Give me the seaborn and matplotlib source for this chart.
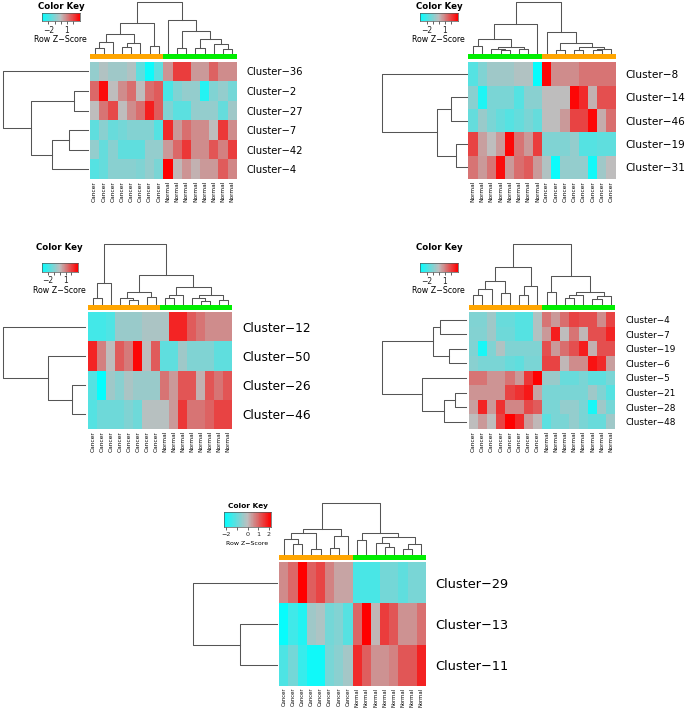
import numpy as np
import pandas as pd
import matplotlib
matplotlib.use("Agg")
import matplotlib.pyplot as plt
from matplotlib.colors import LinearSegmentedColormap, ListedColormap
import seaborn as sns

# ---------------- data: row z-scores ----------------
p1_rows = ["Cluster−36", "Cluster−2", "Cluster−27", "Cluster−7", "Cluster−42", "Cluster−4"]
p1_cols = ["Cancer"] * 8 + ["Normal"] * 8
p1_vals = [
    [-0.7, -0.2, -0.5, -0.5, -0.2, -1.55, -2.9, -1.55, 0.7, 2.1, 2.1, 0.6, 0.6, 1.5, 0.8, 0.8],
    [1.4, 2.9, 0.0, 0.8, 1.3, 0.0, 1.3, 1.6, -1.9, -1.0, -0.7, -0.7, -2.5, -1.0, -0.7, -1.2],
    [0.0, 1.2, 1.9, 0.0, 0.8, 1.3, 2.6, 1.6, -1.0, -1.6, -1.6, -0.7, -0.7, -0.7, -1.45, -0.5],
    [-1.55, -0.85, -1.4, -1.2, -0.95, -0.95, -0.95, -1.7, 2.4, 0.6, 1.3, 0.8, 0.8, 0.0, 2.2, 0.8],
    [-0.7, -1.45, -0.85, -1.55, -1.55, -1.55, -0.7, -0.7, 0.6, 1.4, 2.2, 0.8, 0.8, 1.7, 1.0, 2.1],
    [-1.7, -1.45, -0.85, -0.85, -0.85, -1.0, -0.7, -1.1, 3.1, 0.1, 0.7, 0.2, 0.6, 0.6, 1.6, 0.9],
]

p2_rows = ["Cluster−8", "Cluster−14", "Cluster−46", "Cluster−19", "Cluster−31"]
p2_cols = ["Normal"] * 8 + ["Cancer"] * 8
p2_vals = [
    [-1.7, -1.0, -0.5, -0.5, -0.5, -0.2, -0.2, -3.0, 3.0, 0.8, 0.8, 0.8, 1.2, 1.2, 1.2, 1.2],
    [-0.85, -2.6, -1.1, -1.1, -1.1, -1.7, -0.85, -0.85, 0.0, 0.0, 0.0, 3.0, 2.4, 0.2, 1.8, 1.8],
    [-1.45, -0.6, -1.1, -1.45, -1.7, -1.45, -1.1, -1.45, 0.0, 0.0, 0.6, 2.0, 2.0, 3.0, 0.3, 1.3],
    [2.0, 0.5, 0.0, 0.6, 3.0, 1.2, 0.6, 2.1, -1.0, -1.0, -1.0, -0.7, -1.7, -1.7, -1.55, -1.55],
    [1.2, 0.6, 1.2, 2.9, 0.6, 1.3, 1.6, 0.6, -0.2, -2.9, -0.7, -0.7, -0.7, -2.8, -0.5, 0.0],
]

p3_rows = ["Cluster−12", "Cluster−50", "Cluster−26", "Cluster−46"]
p3_cols = ["Cancer"] * 8 + ["Normal"] * 8
p3_vals = [
    [-2.0, -2.0, -1.8, -0.6, -0.6, -0.6, -0.3, -0.3, -0.3, 2.5, 2.5, 1.6, 1.2, 0.8, 0.8, 0.8],
    [2.5, 1.0, 0.0, 1.6, 1.1, 3.0, 0.0, 1.6, -1.55, -1.55, -0.5, -1.0, -1.0, -1.0, -1.55, -1.55],
    [-1.7, -3.0, -0.5, -0.85, -0.3, -0.6, -0.6, -0.6, 1.2, 0.6, 1.7, 1.7, 0.2, 1.7, 1.2, 1.7],
    [-1.7, -1.3, -1.3, -1.3, -1.0, -1.3, -0.1, -0.1, -0.1, 0.6, 2.2, 1.2, 1.2, 1.5, 2.0, 2.0],
]

p4_rows = ["Cluster−4", "Cluster−7", "Cluster−19", "Cluster−6",
           "Cluster−5", "Cluster−21", "Cluster−28", "Cluster−48"]
p4_cols = ["Cancer"] * 8 + ["Normal"] * 8
p4_vals = [
    [-1.0, -1.0, -0.5, -1.4, -1.4, -1.7, -1.7, -0.2, 1.2, 0.6, 1.3, 2.0, 1.8, 1.8, 0.8, 2.0],
    [-0.95, -0.95, -0.5, -1.3, -1.3, -1.7, -1.7, -0.2, 0.6, 2.6, 0.0, 1.2, 0.1, 1.8, 1.8, 2.5],
    [-1.0, -2.7, -1.0, -0.2, -1.0, -1.0, -1.0, -1.0, 1.8, 0.6, 1.3, 1.8, 2.6, 0.2, 1.8, 1.8],
    [-0.85, -1.1, -1.1, -1.1, -1.4, -1.55, -1.1, -1.1, 2.0, 2.0, 0.1, 0.8, 0.8, 2.8, 2.4, 0.5],
    [1.2, 1.2, 0.7, 0.7, 1.2, 0.6, 2.2, 3.1, -0.6, -0.6, -1.4, -1.4, -1.1, -1.55, -1.55, -1.1],
    [0.7, 0.7, 0.7, 0.7, 2.0, 2.3, 2.7, 0.4, -1.1, -1.1, -1.1, -1.1, -1.1, -0.5, -1.0, -1.7],
    [0.5, 2.5, 0.6, 2.3, 0.9, 0.9, 1.9, 1.6, -1.1, -1.1, -0.7, -0.7, -1.1, -2.7, -0.5, -1.2],
    [0.0, 0.6, 0.0, 2.0, 3.2, 2.4, 0.6, 0.1, -1.6, -1.1, -1.1, -0.7, -1.1, -1.4, -1.4, -0.5],
]

p5_rows = ["Cluster−29", "Cluster−13", "Cluster−11"]
p5_cols = ["Cancer"] * 8 + ["Normal"] * 8
p5_vals = [
    [0.6, 1.0, 2.2, 1.1, 1.4, 0.7, 0.3, 0.3, -1.35, -1.35, -1.35, -0.85, -0.85, -1.1, -0.8, -0.8],
    [-2.1, -1.45, -1.8, -0.35, -0.2, -0.85, -0.7, -1.2, 1.0, 2.2, 0.1, 1.5, 1.2, 0.5, 0.5, 0.9],
    [-1.3, -0.85, -1.55, -2.0, -2.0, -0.8, -0.6, -0.3, 1.7, 1.1, 0.5, 0.5, 0.7, 1.2, 1.2, 1.8],
]

# dendrograms: leaves are display positions, nodes are (left, right, height)
p1_col_tree = (((((0, 1, 0.1), 2, 0.22), ((3, 4, 0.12), 5, 0.2), 0.38), (6, 7, 0.13), 0.59),
               (8, ((9, 10, 0.1), ((11, 12, 0.1), (13, (14, 15, 0.08), 0.17), 0.27), 0.42), 0.64), 1.0)
p1_row_tree = (0, ((1, 2, 0.17), ((3, 4, 0.22), 5, 0.43), 0.67), 1.0)

p2_col_tree = ((((0, 1, 0.14), ((2, (3, 4, 0.05), 0.08), (5, 6, 0.07), 0.12), 0.27), 7, 0.57),
               (8, ((9, 10, 0.06), ((11, 12, 0.05), ((13, 14, 0.05), 15, 0.08), 0.12), 0.2), 0.4), 1.0)
p2_row_tree = (0, ((1, 2, 0.18), (3, 4, 0.13), 0.35), 1.0)

p3_col_tree = (((0, 1, 0.1), 2, 0.35),
               (((3, (4, 5, 0.06), 0.1), (6, 7, 0.12), 0.2),
                (((8, 9, 0.1), 10, 0.15), ((11, (12, 13, 0.05), 0.1), (14, 15, 0.06), 0.15), 0.28), 0.48), 1.0)
p3_row_tree = (0, (1, (2, 3, 0.16), 0.45), 1.0)

p4_col_tree = (((((0, 1, 0.15), 2, 0.25), (3, 4, 0.18), 0.38), ((5, 6, 0.15), 7, 0.3), 0.62),
               ((8, 9, 0.2), (((10, 11, 0.1), 12, 0.15), ((13, 14, 0.08), 15, 0.13), 0.2), 0.47), 1.0)
p4_row_tree = (((0, 1, 0.31), (2, 3, 0.21), 0.4), (4, ((5, 6, 0.13), 7, 0.27), 0.52), 1.0)

p5_col_tree = ((((0, (1, 2, 0.2), 0.3), (3, 4, 0.1), 0.41), ((5, 6, 0.12), 7, 0.36), 0.49),
               ((8, 9, 0.27), ((10, (11, 12, 0.13), 0.22), ((13, 14, 0.1), 15, 0.19), 0.34), 0.41), 1.0)
p5_row_tree = (0, (1, 2, 0.44), 1.0)

group_colors = {"Cancer": "#FFA500", "Normal": "#00EE00"}

# ---------------- drawing ----------------
W, H = 685, 709
fig = plt.figure(figsize=(W / 100, H / 100), dpi=100)
cmap = LinearSegmentedColormap.from_list("cyan_grey_red", ["#00FFFF", "#BEBEBE", "#FF0000"])
LINE = "#555555"


def box(x0, y0, x1, y1):
    # axes from pixel box (origin top-left)
    return fig.add_axes([x0 / W, 1 - y1 / H, (x1 - x0) / W, (y1 - y0) / H])


def tree_segments(node, segs):
    if isinstance(node, int):
        return node + 0.5, 0.0
    left, right, h = node
    xl, hl = tree_segments(left, segs)
    xr, hr = tree_segments(right, segs)
    segs.append(([xl, xl, xr, xr], [hl, h, h, hr]))
    return (xl + xr) / 2, h


def draw_panel(rows, cols, vals, col_tree, row_tree, lim, ticks, tick_labels, lay):
    hx0, hy0, hx1, hy1 = lay["heat"]
    n_r, n_c = len(rows), len(cols)

    ax = box(hx0, hy0, hx1, hy1)
    sns.heatmap(np.array(vals), ax=ax, cmap=cmap, vmin=-lim, vmax=lim, cbar=False,
                xticklabels=cols, yticklabels=rows)
    ax.yaxis.tick_right()
    ax.tick_params(axis="y", length=0, pad=lay["pad"], labelsize=lay["fs"], labelrotation=0)
    ax.tick_params(axis="x", length=0, pad=1.5, labelsize=lay["cfs"], labelrotation=90)
    for t in ax.get_yticklabels():
        t.set_ha("left")

    # group colour strip
    sy0, sy1 = lay["side"]
    sa = box(hx0, sy0, hx1, sy1)
    codes = [[0 if c == "Cancer" else 1 for c in cols]]
    sns.heatmap(codes, ax=sa, cmap=ListedColormap([group_colors["Cancer"], group_colors["Normal"]]),
                vmin=0, vmax=1, cbar=False, xticklabels=False, yticklabels=False)

    # column dendrogram
    dy0, dy1 = lay["cdend"]
    ca = box(hx0, dy0, hx1, dy1)
    segs = []
    tree_segments(col_tree, segs)
    for xs, ys in segs:
        ca.plot(xs, ys, color=LINE, lw=0.75, clip_on=False)
    ca.set_xlim(0, n_c)
    ca.set_ylim(0, 1)
    ca.axis("off")

    # row dendrogram
    rx0, rx1 = lay["rdend"]
    ra = box(rx0, hy0, rx1, hy1)
    segs = []
    tree_segments(row_tree, segs)
    for xs, ys in segs:
        ra.plot(ys, xs, color=LINE, lw=0.75, clip_on=False)
    ra.set_xlim(1, 0)
    ra.set_ylim(n_r, 0)
    ra.axis("off")

    # colour key
    kx0, ky0, kx1, ky1 = lay["key"]
    ka = box(kx0, ky0, kx1, ky1)
    edges = np.linspace(-lim, lim, 121)
    mids = (edges[:-1] + edges[1:]) / 2
    ka.pcolormesh(edges, [0, 1], mids[None, :], cmap=cmap, vmin=-lim, vmax=lim)
    ka.set_xlim(-lim, lim)
    ka.set_ylim(0, 1)
    ka.set_yticks([])
    ka.set_xticks(ticks)
    ka.set_xticklabels(tick_labels)
    ka.tick_params(axis="x", length=2.5, width=0.5, pad=1, labelsize=lay["kfs"], colors="#222222")
    for s in ka.spines.values():
        s.set_linewidth(0.5)
        s.set_color("#555555")
    kc = (kx0 + kx1) / 2
    fig.text(kc / W, 1 - lay["title_y"] / H, "Color Key", ha="center", va="center",
             fontsize=lay["tfs"], fontweight="bold")
    fig.text(kc / W, 1 - lay["zlab_y"] / H, "Row Z−Score", ha="center", va="center",
             fontsize=lay["zfs"])


key_ticks = [-2, -1, 0, 1, 2]
key_labels_small = ["−2", "", "", "1", ""]
key_labels_big = ["−2", "", "0", "1", "2"]

layouts = [
    dict(heat=(90, 61.7, 236.7, 179), side=(54.3, 59.3), cdend=(1.7, 53), rdend=(3.3, 88),
         key=(41.7, 12.7, 80, 20.7), title_y=6.3, zlab_y=40, fs=7.2, pad=7, cfs=4.2,
         kfs=5.5, tfs=6.2, zfs=5.7),
    dict(heat=(468.3, 62.3, 615.7, 179), side=(54.3, 59.3), cdend=(1.7, 53), rdend=(381.7, 466.7),
         key=(420, 12.7, 457.7, 21.2), title_y=6.5, zlab_y=40, fs=7.6, pad=7, cfs=4.2,
         kfs=5.5, tfs=6.2, zfs=5.7),
    dict(heat=(88.3, 312.3, 232.3, 429), side=(305, 309.8), cdend=(243.8, 304), rdend=(3.3, 85),
         key=(41.7, 263.3, 77.7, 271.5), title_y=248, zlab_y=290.7, fs=8.7, pad=7, cfs=4.2,
         kfs=5.5, tfs=6.2, zfs=5.7),
    dict(heat=(468.7, 312.3, 615.3, 429), side=(305, 309.8), cdend=(243.8, 304), rdend=(381.7, 466.5),
         key=(420, 263.3, 457.7, 271.7), title_y=248, zlab_y=290.7, fs=6.4, pad=7, cfs=4.2,
         kfs=5.5, tfs=6.2, zfs=5.7),
    dict(heat=(279.3, 562.3, 426, 685.7), side=(555, 560), cdend=(502.7, 554), rdend=(192.7, 277.3),
         key=(224.3, 511.7, 270.7, 526.7), title_y=506, zlab_y=543.3, fs=9.3, pad=6.5, cfs=3.8,
         kfs=4.6, tfs=5.3, zfs=4.5),
]

draw_panel(p1_rows, p1_cols, p1_vals, p1_col_tree, p1_row_tree, 3.1, key_ticks, key_labels_small, layouts[0])
draw_panel(p2_rows, p2_cols, p2_vals, p2_col_tree, p2_row_tree, 3.1, key_ticks, key_labels_small, layouts[1])
draw_panel(p3_rows, p3_cols, p3_vals, p3_col_tree, p3_row_tree, 3.1, key_ticks, key_labels_small, layouts[2])
draw_panel(p4_rows, p4_cols, p4_vals, p4_col_tree, p4_row_tree, 3.1, key_ticks, key_labels_small, layouts[3])
draw_panel(p5_rows, p5_cols, p5_vals, p5_col_tree, p5_row_tree, 2.2, key_ticks, key_labels_big, layouts[4])

fig.savefig("out.png", dpi=100, facecolor="white")
